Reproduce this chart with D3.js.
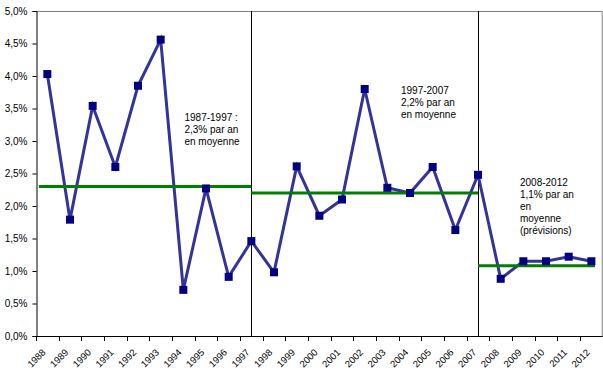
<!DOCTYPE html>
<html>
<head>
<meta charset="utf-8">
<script src="https://cdn.jsdelivr.net/npm/d3@7"></script>
<style>
  body { margin: 0; background: #fff; }
  text { font-family: "Liberation Sans", Arial, sans-serif; }
</style>
</head>
<body>
<div id="chart"></div>
<script>
// annual growth, %
const years = d3.range(1988, 2013);
const growth = [4.03, 1.79, 3.54, 2.60, 3.85, 4.56, 0.71, 2.27, 0.91, 1.46,
                0.98, 2.61, 1.85, 2.10, 3.80, 2.28, 2.20, 2.60, 1.63, 2.48,
                0.88, 1.15, 1.15, 1.22, 1.15];
// period averages (start year, end year, value)
const avgFrom = [1987.63, 1997, 2007];
const avgTo = [1997, 2007, 2012.16];
const avgValue = [2.3, 2.2, 1.08];
// period breaks
const breaks = [1997, 2007];
const yTicks = d3.range(0, 5.01, 0.5);
const notes = [
  {lines: ["1987-1997 :", "2,3% par an", "en moyenne"], year: 1994.05, v: 3.31},
  {lines: ["1997-2007", "2,2% par an", "en moyenne"], year: 2003.6, v: 3.72},
  {lines: ["2008-2012", "1,1% par an", "en", "moyenne", "(prévisions)"], year: 2008.85, v: 2.31}
];

const W = 603, H = 375;
const plot = {left: 36, right: 602.7, top: 11, bottom: 336};

const svg = d3.select("#chart").append("svg")
    .attr("width", W).attr("height", H);

const x = d3.scaleLinear().domain([1987.5, 2012.5]).range([plot.left, plot.right]);
const y = d3.scaleLinear().domain([0, 5]).range([plot.bottom, plot.top]);

// plot area border (top / right)
svg.append("path")
    .attr("d", `M${plot.left},${plot.top + 0.5}H${plot.right - 0.5}V${plot.bottom}`)
    .attr("fill", "none")
    .attr("stroke", "#808080")
    .attr("stroke-width", 1);

// period separators
svg.append("g").selectAll("line").data(breaks).enter().append("line")
    .attr("x1", d => Math.round(x(d)) + 0.5)
    .attr("x2", d => Math.round(x(d)) + 0.5)
    .attr("y1", plot.top)
    .attr("y2", plot.bottom)
    .attr("stroke", "black");

// y axis
const yAxis = svg.append("g")
    .attr("transform", `translate(${plot.left + 0.5},0)`)
    .call(d3.axisLeft(y).tickValues(yTicks).tickSize(4).tickPadding(5)
        .tickFormat(d => d.toFixed(1).replace(".", ",") + "%"));
yAxis.select(".domain").attr("stroke", "black");
yAxis.selectAll("text").attr("font-size", 10).attr("fill", "black");

// x axis: ticks at category boundaries
svg.append("line")
    .attr("x1", plot.left).attr("x2", plot.right)
    .attr("y1", plot.bottom + 0.5).attr("y2", plot.bottom + 0.5)
    .attr("stroke", "black");
svg.append("g").selectAll("line").data(d3.range(1987.5, 2013, 1)).enter().append("line")
    .attr("x1", d => Math.round(x(d)) + 0.5)
    .attr("x2", d => Math.round(x(d)) + 0.5)
    .attr("y1", plot.bottom)
    .attr("y2", plot.bottom + 5)
    .attr("stroke", "black");
svg.append("g").selectAll("text").data(years).enter().append("text")
    .attr("transform", d => `translate(${x(d) - 1},${plot.bottom + 17}) rotate(-45)`)
    .attr("text-anchor", "end")
    .attr("font-size", 9.5)
    .attr("fill", "black")
    .text(d => d);

// growth line
const line = d3.line().x((d, i) => x(years[i])).y(d => y(d));
svg.append("path")
    .datum(growth)
    .attr("d", line)
    .attr("fill", "none")
    .attr("stroke", "#333399")
    .attr("stroke-width", 3);

// averages
svg.append("g").selectAll("line").data(avgValue).enter().append("line")
    .attr("x1", (d, i) => x(avgFrom[i]))
    .attr("x2", (d, i) => x(avgTo[i]))
    .attr("y1", d => y(d))
    .attr("y2", d => y(d))
    .attr("stroke", "#008000")
    .attr("stroke-width", 3);

// markers
svg.append("g").selectAll("rect").data(growth).enter().append("rect")
    .attr("x", (d, i) => x(years[i]) - 4)
    .attr("y", d => y(d) - 4)
    .attr("width", 8)
    .attr("height", 8)
    .attr("fill", "#000080");

// annotations
notes.forEach(n => {
    svg.append("text")
        .attr("x", x(n.year))
        .attr("y", y(n.v))
        .attr("font-size", 10)
        .attr("fill", "black")
        .selectAll("tspan").data(n.lines).enter().append("tspan")
        .attr("x", x(n.year))
        .attr("dy", (d, i) => i ? 12 : 0)
        .text(d => d);
});
</script>
</body>
</html>
